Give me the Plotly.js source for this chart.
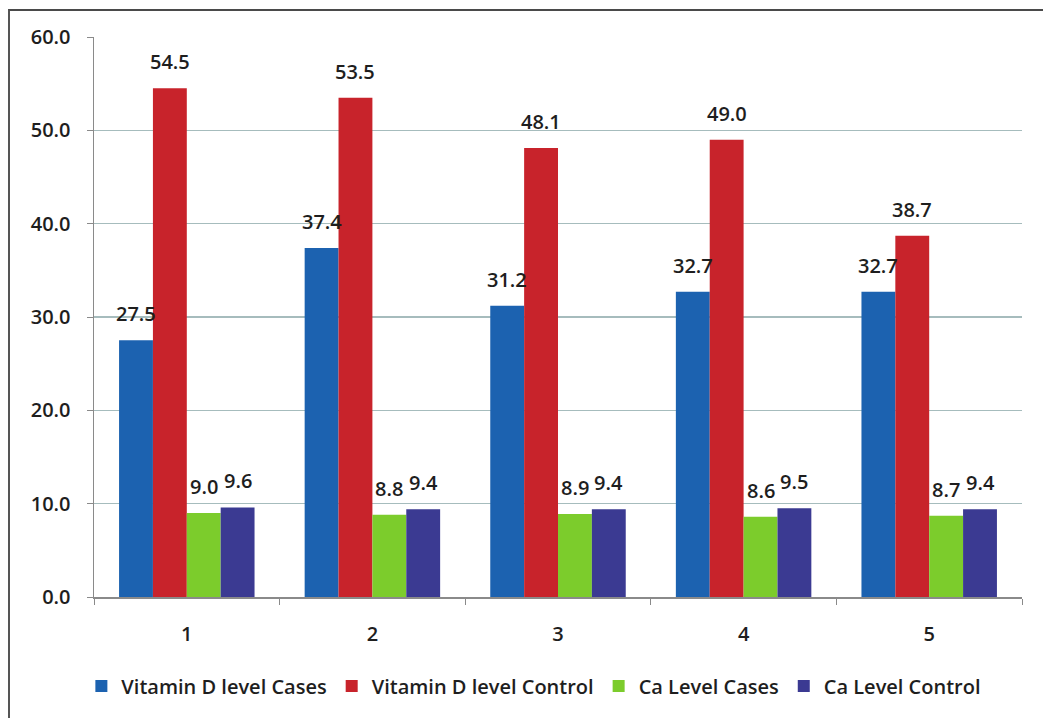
<!DOCTYPE html>
<html>
<head>
<meta charset="utf-8">
<script src="https://cdn.plot.ly/plotly-3.0.1.min.js"></script>
<style>
  html, body { margin: 0; padding: 0; background: #ffffff; }
  #wrap { position: relative; width: 1043px; height: 718px; }
  #chart { width: 1043px; height: 718px; }
  /* frame lines along the top and left of the chart box */
  #frame { position: absolute; left: 8px; top: 9px; width: 1040px; height: 720px;
           border-top: 2px solid #4a4a4a; border-left: 2px solid #555; pointer-events: none; }
</style>
</head>
<body>
<div id="wrap">
  <div id="chart"></div>
  <div id="frame"></div>
</div>
<script>
// Groups along the x axis
const categories = ['1', '2', '3', '4', '5'];

// Series values
const vitDCases   = [27.5, 37.4, 31.2, 32.7, 32.7];
const vitDControl = [54.5, 53.5, 48.1, 49.0, 38.7];
const caCases     = [9.0, 8.8, 8.9, 8.6, 8.7];
const caControl   = [9.6, 9.4, 9.4, 9.5, 9.4];

const seriesNames  = ['Vitamin D level Cases', 'Vitamin D level Control', 'Ca Level Cases', 'Ca Level Control'];
const seriesValues = [vitDCases, vitDControl, caCases, caControl];
const seriesColors = ['#1c62b0', '#c8232b', '#7ccc2c', '#3b3a92'];

// Y axis ticks
const yTicks = [0, 10, 20, 30, 40, 50, 60];

const FONT = 'Open Sans, sans-serif';
const TXT = '#1e1e1e';

const BARGAP = 0.27;
const nSeries = seriesValues.length;
const barW = (1 - BARGAP) / nSeries;

const traces = seriesValues.map((vals, i) => ({
  type: 'bar',
  name: seriesNames[i],
  x: categories,
  y: vals,
  marker: { color: seriesColors[i], line: { width: 0 } },
  hoverinfo: 'skip'
}));

// Value labels above each bar, placed in category units on the x axis
const annotations = [];
seriesValues.forEach((vals, i) => {
  const off = -((1 - BARGAP) / 2) + barW * (i + 0.5);
  vals.forEach((v, j) => {
    annotations.push({
      xref: 'x', yref: 'y',
      x: j + off, y: v,
      text: v.toFixed(1),
      showarrow: false,
      xanchor: 'center', yanchor: 'bottom',
      yshift: 11,
      font: { family: FONT, size: 20, weight: 600, color: TXT }
    });
  });
});

const layout = {
  width: 1043, height: 718,
  paper_bgcolor: '#ffffff', plot_bgcolor: '#ffffff',
  margin: { l: 94, r: 21, t: 37, b: 121 },
  barmode: 'group',
  bargap: BARGAP,
  bargroupgap: 0,
  showlegend: true,
  legend: {
    orientation: 'h',
    x: 0.474, xanchor: 'center',
    y: -0.159, yanchor: 'middle',
    font: { family: FONT, size: 20, weight: 600, color: TXT },
    itemwidth: 30,
    traceorder: 'normal'
  },
  xaxis: {
    type: 'category',
    showgrid: false,
    showline: true, linecolor: '#8a8a8a', linewidth: 1.5,
    ticks: 'outside', ticklen: 6, tickcolor: '#8a8a8a',
    tickson: 'boundaries',
    ticklabelstandoff: 18,
    tickfont: { family: FONT, size: 20, weight: 600, color: TXT },
    zeroline: false,
    fixedrange: true
  },
  yaxis: {
    range: [0, 60],
    tickvals: yTicks,
    tickformat: '.1f',
    showgrid: true, gridcolor: '#a6bcbd', gridwidth: 1.2,
    showline: true, linecolor: '#8a8a8a', linewidth: 1.5,
    ticks: 'outside', ticklen: 6, tickcolor: '#8a8a8a',
    ticklabelstandoff: 12,
    tickfont: { family: FONT, size: 20, weight: 600, color: TXT },
    zeroline: false,
    fixedrange: true
  },
  annotations: annotations
};

Plotly.newPlot('chart', traces, layout, { displayModeBar: false, staticPlot: true });
</script>
</body>
</html>
